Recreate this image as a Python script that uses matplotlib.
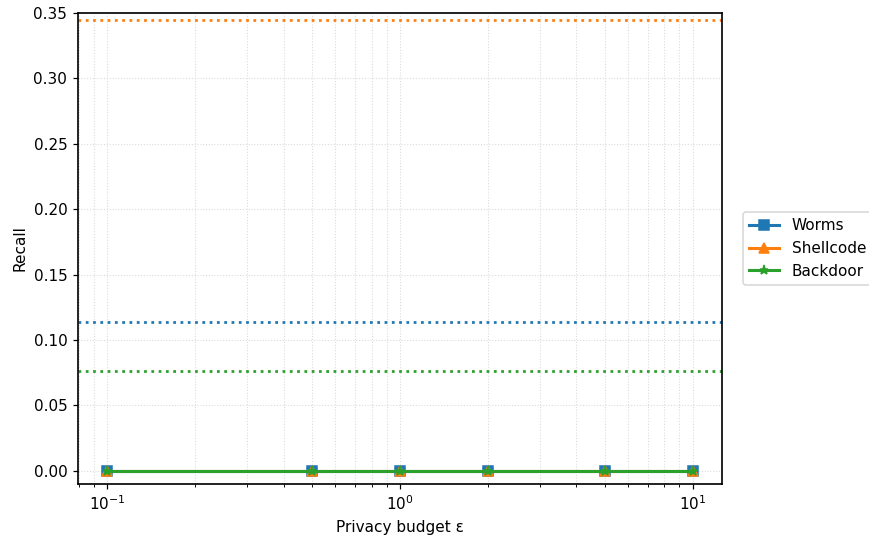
from matplotlib import pyplot as plt
import numpy as np

# privacy budgets
epsilons = [0.1, 0.5, 1.0, 2.0, 5.0, 10.0]

# recall per attack class under DP
recall_worms = [0.0, 0.0, 0.0, 0.0, 0.0, 0.0]
recall_shellcode = [0.0, 0.0, 0.0, 0.0, 0.0, 0.0]
recall_backdoor = [0.0, 0.0, 0.0, 0.0, 0.0, 0.0]

# non-private baselines
baseline_worms = 0.114
baseline_shellcode = 0.345
baseline_backdoor = 0.0765

DPI = 110
fig, ax = plt.subplots(figsize=(869 / DPI, 537 / DPI), dpi=DPI)
fig.subplots_adjust(left=0.0898, right=0.831, top=0.9758, bottom=0.0987)

ax.plot(epsilons, recall_worms, marker="s", color="C0", lw=2, ms=6, label="Worms")
ax.plot(epsilons, recall_shellcode, marker="^", color="C1", lw=2, ms=6, label="Shellcode")
ax.plot(epsilons, recall_backdoor, marker="*", color="C2", lw=2, ms=6, label="Backdoor")

ax.axhline(baseline_worms, color="C0", ls=":", lw=1.8)
ax.axhline(baseline_shellcode, color="C1", ls=":", lw=1.8)
ax.axhline(baseline_backdoor, color="C2", ls=":", lw=1.8)

ax.set_xscale("log")
ax.set_ylim(-0.01, 0.35)
ax.grid(True, which="both", ls=":", color="#dadada", lw=0.7)
ax.set_xlabel("Privacy budget ε")
ax.set_ylabel("Recall")
ax.legend(loc="center left", bbox_to_anchor=(1.02, 0.5))
for s in ax.spines.values():
    s.set_linewidth(1.1)

fig.savefig("out.png", dpi=DPI)
